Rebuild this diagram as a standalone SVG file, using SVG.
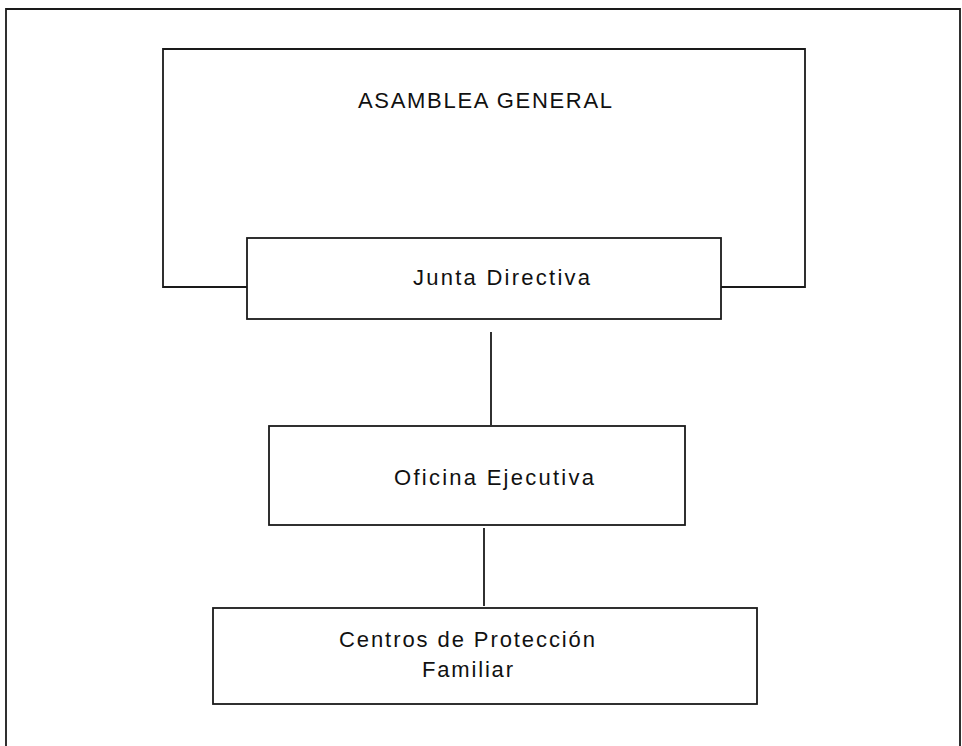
<svg xmlns="http://www.w3.org/2000/svg" width="962" height="746" viewBox="0 0 962 746">
<style>
.ln{fill:none;stroke:#1a1a1a;stroke-width:1.8;stroke-linecap:square}
.box{fill:#fff;stroke:#1a1a1a;stroke-width:1.8}
.lbl{font-family:"Liberation Sans",Arial,sans-serif;font-size:22px;fill:#111}
</style>
<rect width="962" height="746" fill="#fff"/>
<g id="frame">
<path class="ln" d="M6,746 V9 H960 V746"/>
</g>
<g id="asamblea-general">
<path class="ln" d="M247,287 H163 V49 H805 V287 H721"/>
<text class="lbl" x="358" y="108" textLength="254" lengthAdjust="spacing">ASAMBLEA GENERAL</text>
</g>
<g id="connectors">
<line class="ln" x1="491" y1="333" x2="491" y2="424"/>
<line class="ln" x1="484" y1="529" x2="484" y2="605"/>
</g>
<g id="junta-directiva">
<rect class="box" x="247" y="238" width="474" height="81"/>
<text class="lbl" x="413" y="285" textLength="177" lengthAdjust="spacing">Junta Directiva</text>
</g>
<g id="oficina-ejecutiva">
<rect class="box" x="269" y="426" width="416" height="99"/>
<text class="lbl" x="394" y="485" textLength="200" lengthAdjust="spacing">Oficina Ejecutiva</text>
</g>
<g id="centros-proteccion">
<rect class="box" x="213" y="608" width="544" height="96"/>
<text class="lbl" x="339" y="647" textLength="256" lengthAdjust="spacing">Centros de Protección</text>
<text class="lbl" x="422" y="677" textLength="91" lengthAdjust="spacing">Familiar</text>
</g>
</svg>
